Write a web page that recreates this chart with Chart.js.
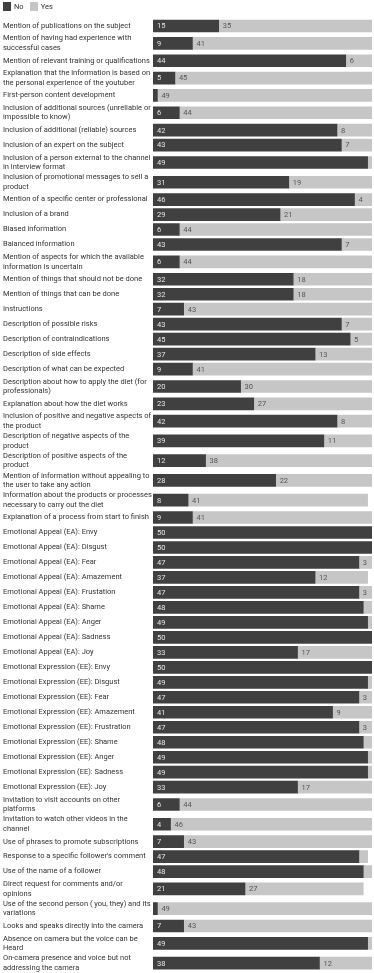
<!DOCTYPE html>
<html>
<head>
<meta charset="utf-8">
<script src="https://cdn.jsdelivr.net/npm/chart.js@4"></script>
<style>
  html, body { margin: 0; padding: 0; background: #fff; }
  #wrap { position: relative; width: 374px; height: 973px; }
  #legend { position: absolute; left: 3px; top: 2px; display: flex; align-items: center; font: 7.5px Roboto, sans-serif; color: #333; }
  #legend .sw { display: inline-block; width: 8px; height: 9px; margin-right: 3px; }
  #legend .item { display: flex; align-items: center; margin-right: 6px; }
</style>
</head>
<body>
<div id="wrap">
  <div id="legend"></div>
  <canvas id="c"></canvas>
</div>
<script>
const legendLabels = ['No', 'Yes'];
const categories = [
  ['Mention of publications on the subject'],
  ['Mention of having had experience with', 'successful cases'],
  ['Mention of relevant training or qualifications'],
  ['Explanation that the information is based on', 'the personal experience of the youtuber'],
  ['First-person content development'],
  ['Inclusion of additional sources (unreliable or', 'impossible to know)'],
  ['Inclusion of additional (reliable) sources'],
  ['Inclusion of an expert on the subject'],
  ['Inclusion of a person external to the channel', 'in interview format'],
  ['Inclusion of promotional messages to sell a', 'product'],
  ['Mention of a specific center or professional'],
  ['Inclusion of a brand'],
  ['Biased information'],
  ['Balanced information'],
  ['Mention of aspects for which the available', 'information is uncertain'],
  ['Mention of things that should not be done'],
  ['Mention of things that can be done'],
  ['Instructions'],
  ['Description of possible risks'],
  ['Description of contraindications'],
  ['Description of side effects'],
  ['Description of what can be expected'],
  ['Description about how to apply the diet (for', 'professionals)'],
  ['Explanation about how the diet works'],
  ['Inclusion of positive and negative aspects of', 'the product'],
  ['Description of negative aspects of the', 'product'],
  ['Description of positive aspects of the', 'product'],
  ['Mention of information without appealing to', 'the user to take any action'],
  ['Information about the products or processes', 'necessary to carry out the diet'],
  ['Explanation of a process from start to finish'],
  ['Emotional Appeal (EA): Envy'],
  ['Emotional Appeal (EA): Disgust'],
  ['Emotional Appeal (EA): Fear'],
  ['Emotional Appeal (EA): Amazement'],
  ['Emotional Appeal (EA): Frustation'],
  ['Emotional Appeal (EA): Shame'],
  ['Emotional Appeal (EA): Anger'],
  ['Emotional Appeal (EA): Sadness'],
  ['Emotional Appeal (EA): Joy'],
  ['Emotional Expression (EE): Envy'],
  ['Emotional Expression (EE): Disgust'],
  ['Emotional Expression (EE): Fear'],
  ['Emotional Expression (EE): Amazement'],
  ['Emotional Expression (EE): Frustration'],
  ['Emotional Expression (EE): Shame'],
  ['Emotional Expression (EE): Anger'],
  ['Emotional Expression (EE): Sadness'],
  ['Emotional Expression (EE): Joy'],
  ['Invitation to visit accounts on other', 'platforms'],
  ['Invitation to watch other videos in the', 'channel'],
  ['Use of phrases to promote subscriptions'],
  ["Response to a specific follower's comment"],
  ['Use of the name of a follower'],
  ['Direct request for comments and/or', 'opinions'],
  ['Use of the second person ( you, they) and its', 'variations'],
  ['Looks and speaks directly into the camera'],
  ['Absence on camera but the voice can be', 'Heard'],
  ['On-camera presence and voice but not', 'addressing the camera']
];
const noValues = [15, 9, 44, 5, 1, 6, 42, 43, 49, 31, 46, 29, 6, 43, 6, 32, 32, 7, 43, 45, 37, 9, 20, 23, 42, 39, 12, 28, 8, 9,
  50, 50, 47, 37, 47, 48, 49, 50, 33, 50, 49, 47, 41, 47, 48, 49, 49, 33, 6, 4, 7, 47, 48, 21, 1, 7, 49, 38];
const yesValues = [35, 41, 6, 45, 49, 44, 8, 7, 1, 19, 4, 21, 44, 7, 44, 18, 18, 43, 7, 5, 13, 41, 30, 27, 8, 11, 38, 22, 41, 41,
  0, 0, 3, 12, 3, 2, 1, 0, 17, 0, 1, 3, 9, 3, 2, 1, 1, 17, 44, 46, 43, 2, 2, 27, 49, 43, 1, 12];

const COLORS = ['#404040', '#c6c6c6'];
const LABEL_COLORS = ['#e6e6e6', '#555555'];

// legend (HTML)
const lg = document.getElementById('legend');
legendLabels.forEach((t, i) => {
  const it = document.createElement('span'); it.className = 'item';
  const sw = document.createElement('span'); sw.className = 'sw'; sw.style.background = COLORS[i];
  it.appendChild(sw); it.appendChild(document.createTextNode(t)); lg.appendChild(it);
});

// row layout: two-line labels get taller rows
const ONE = 1, TWO = 1.317;
const rowPos = [];
let acc = 0;
categories.forEach(l => { const h = l.length > 1 ? TWO : ONE; rowPos.push(acc + h / 2); acc += h; });
const totalRows = acc;

const mk = (vals) => vals.map((v, i) => ({ x: v, y: rowPos[i] }));

const valueLabels = {
  id: 'valueLabels',
  afterDatasetsDraw(chart) {
    const ctx = chart.ctx;
    ctx.save();
    ctx.font = '7.5px Roboto, sans-serif';
    ctx.textBaseline = 'middle';
    ctx.textAlign = 'left';
    chart.data.datasets.forEach((ds, di) => {
      const meta = chart.getDatasetMeta(di);
      meta.data.forEach((el, i) => {
        const v = ds.data[i].x;
        if (v < 3) return;
        const left = Math.min(el.x, el.base);
        ctx.fillStyle = LABEL_COLORS[di];
        ctx.fillText(String(v), left + 4, el.y + 0.5);
      });
    });
    ctx.restore();
  }
};

new Chart(document.getElementById('c'), {
  type: 'bar',
  data: {
    datasets: [
      { label: legendLabels[0], data: mk(noValues), backgroundColor: COLORS[0], borderWidth: 0, barThickness: 12 },
      { label: legendLabels[1], data: mk(yesValues), backgroundColor: COLORS[1], borderWidth: 0, barThickness: 12 }
    ]
  },
  options: {
    indexAxis: 'y',
    responsive: true,
    maintainAspectRatio: false,
    animation: false,
    layout: { padding: { left: 3, right: 2, top: 18.5, bottom: 0 } },
    plugins: { legend: { display: false }, tooltip: { enabled: false } },
    scales: {
      x: { type: 'linear', stacked: true, min: 0, max: 50, display: false },
      y: {
        type: 'linear', stacked: true, reverse: true, offset: false, min: 0, max: totalRows,
        grid: { display: false, offset: false }, border: { display: false },
        afterBuildTicks: (scale) => { scale.ticks = rowPos.map(v => ({ value: v })); },
        afterFit: (scale) => { scale.width = 150; scale.paddingTop = 0; scale.paddingBottom = 0; },
        ticks: {
          autoSkip: false, crossAlign: 'far', padding: 0, color: '#333',
          font: { family: 'Roboto', size: 7.5, lineHeight: 1.27 },
          callback: (v, i) => categories[i]
        }
      }
    }
  },
  plugins: [valueLabels]
});
</script>
</body>
</html>
